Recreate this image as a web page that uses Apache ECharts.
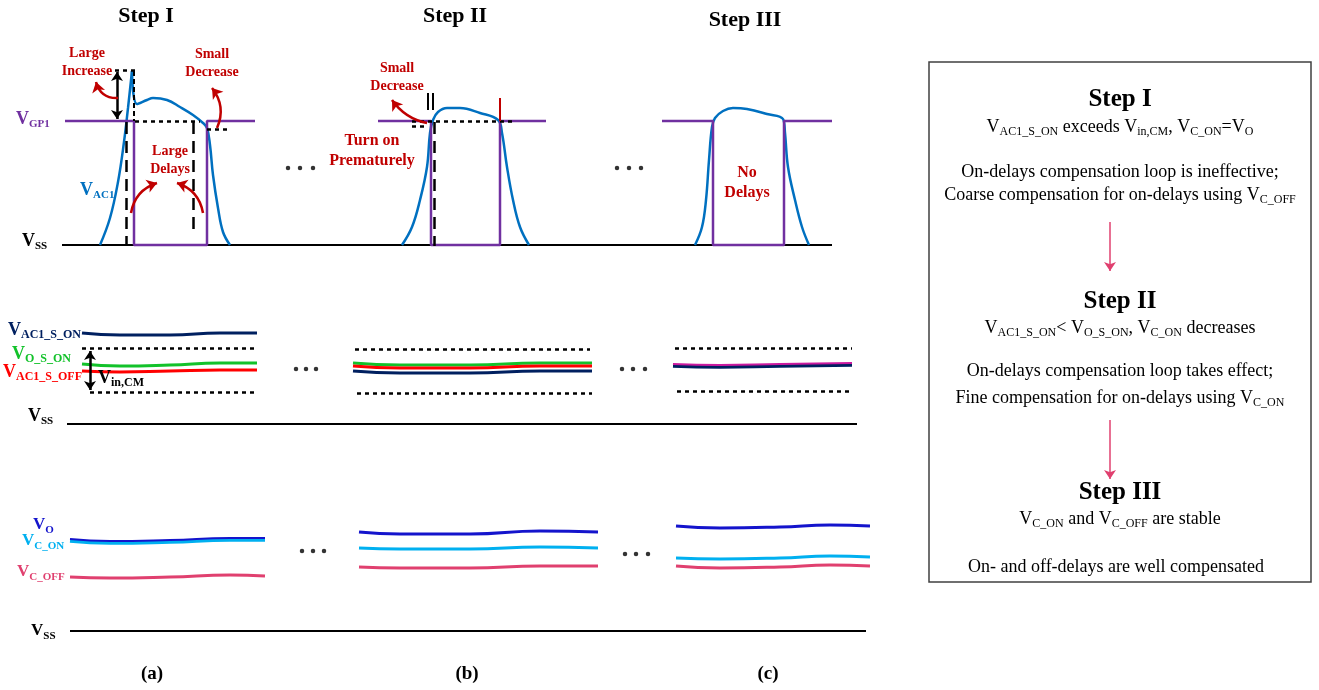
<!DOCTYPE html>
<html>
<head>
<meta charset="utf-8">
<script src="https://cdn.jsdelivr.net/npm/echarts@6/dist/echarts.min.js"></script>
<style>
  html, body { margin: 0; padding: 0; background: #fff; }
  #main { width: 1319px; height: 690px; }
</style>
</head>
<body>
<div id="main"></div>
<script>
// ---- data (drawing units = page pixels, y grows downward) ----
var stepTitles = ['Step I', 'Step II', 'Step III'];
var panelTags = ['(a)', '(b)', '(c)'];

// top row: gate pulse V_GP1 and node voltage V_AC1
var vgp1A = [[65, 121], [134, 121], [134, 245], [207, 245], [207, 121], [255, 121]];
var vgp1B = [[378, 121], [431, 121], [431, 245], [500, 245], [500, 121], [546, 121]];
var vgp1C = [[662, 121], [713, 121], [713, 245], [784, 245], [784, 121], [832, 121]];
var vac1ARise = [[100, 245], [110, 218], [118, 182], [124, 142], [128, 108], [132, 71]];
var vac1AFall = [[132, 71], [137, 104], [147, 100], [153, 98], [167, 100], [180, 107], [193, 115], [203, 123], [207, 128], [210, 145], [213, 175], [218, 208], [223, 232], [230, 245]];
var vac1B = [[402, 245], [412, 227], [420, 200], [427, 167], [430, 133], [433, 120], [438, 112], [447, 108], [460, 108], [480, 113], [498, 120], [502, 133], [507, 167], [513, 200], [520, 227], [529, 245]];
var vac1C = [[695, 245], [702, 227], [706, 200], [709, 160], [712, 127], [715, 118], [723, 111], [733, 108], [747, 109], [767, 114], [783, 119], [785, 133], [788, 167], [795, 200], [802, 227], [809, 245]];

// middle row: sampled voltages
var acOnA = [[82, 333], [120, 335], [170, 335], [220, 333], [257, 333]];
var oOnA = [[82, 364], [120, 366], [170, 365], [220, 363], [257, 363]];
var acOffA = [[82, 371], [120, 372], [170, 371], [220, 370], [257, 370]];
var oOnB = [[353, 363], [400, 365], [470, 365], [540, 363], [592, 363]];
var acOffB = [[353, 366], [400, 368], [470, 368], [540, 366], [592, 366]];
var acOnB = [[353, 371], [400, 373], [470, 373], [540, 371], [592, 371]];
var acOnC = [[673, 366], [720, 367], [780, 366], [852, 365]];
var mixC = [[673, 364], [720, 365], [780, 364], [852, 363]];

// bottom row: V_O, V_C_ON, V_C_OFF
var voA = [[70, 539], [110, 541], [170, 540], [230, 538], [265, 538]];
var vcOnA = [[70, 541], [110, 543], [170, 542], [230, 540], [265, 540]];
var vcOffA = [[70, 577], [110, 578], [170, 577], [230, 575], [265, 576]];
var voB = [[359, 532], [400, 534], [470, 534], [540, 531], [598, 532]];
var vcOnB = [[359, 548], [400, 549], [470, 549], [540, 547], [598, 548]];
var vcOffB = [[359, 567], [400, 568], [470, 568], [540, 566], [598, 566]];
var voC = [[676, 526], [720, 528], [780, 527], [830, 525], [870, 526]];
var vcOnC = [[676, 558], [720, 559], [780, 558], [830, 556], [870, 557]];
var vcOffC = [[676, 566], [720, 568], [780, 567], [830, 565], [870, 566]];

// straight guide segments
var vssLines = [[[62, 245], [832, 245]], [[67, 423.5], [857, 423.5]], [[70, 631], [866, 631]]];
var longDashes = [[[126, 122], [126, 246]], [[193, 122], [193, 233]], [[434, 122], [434, 246]]];
var shortDashes = [[[134, 71], [134, 121]]];
var dottedLines = [
  [[135, 121], [200, 121]], [[115, 70], [137, 70]], [[207, 129], [227, 129]],
  [[412, 121], [515, 121]], [[412, 126], [425, 126]],
  [[82, 348], [257, 348]], [[90, 392], [257, 392]],
  [[355, 349], [590, 349]], [[357, 393], [592, 393]],
  [[675, 348], [852, 348]], [[677, 391], [852, 391]]
];
var blackTicks = [[[428, 93], [428, 110]], [[433, 93], [433, 110]]];
var redTick = [[[500, 98], [500, 121]]];
var doubleArrows = [[[117, 72], [117, 119]], [[90, 351], [90, 390]]];
var redArrows = [
  [[[118, 98], [96, 82]], 0.4],
  [[[217, 128], [212, 88]], -0.3],
  [[[131, 213], [157, 183]], 0.3],
  [[[203, 213], [177, 183]], -0.3],
  [[[427, 123], [392, 100]], 0.2]
];
var boxArrows = [[[1110, 222], [1110, 271]], [[1110, 420], [1110, 479]]];
var ellipsis = [
  [288, 168], [300, 168], [313, 168], [617, 168], [629, 168], [641, 168],
  [296, 369], [306, 369], [316, 369], [622, 369], [633, 369], [645, 369],
  [302, 551], [313, 551], [324, 551], [625, 554], [636, 554], [648, 554]
];

var serif = '"Liberation Serif", "Times New Roman", serif';

function curve(data, color, width, smooth) {
  return { type: 'line', data: data, symbol: 'none', smooth: smooth, silent: true, z: 3,
    lineStyle: { color: color, width: width } };
}
function segs(list, color, width, dash, symbol, z) {
  return { type: 'lines', coordinateSystem: 'cartesian2d', silent: true, z: z || 2,
    data: list.map(function (c) { return { coords: c }; }),
    symbol: symbol || 'none', symbolSize: 9,
    lineStyle: { color: color, width: width, type: dash || 'solid', opacity: 1 } };
}

function rich(color, big, small, weight) {
  return {
    m: { fill: color, fontSize: big, fontWeight: weight, fontFamily: serif, lineHeight: big + 4 },
    s: { fill: color, fontSize: small, fontWeight: weight, fontFamily: serif, lineHeight: 10, verticalAlign: 'bottom' }
  };
}
function label(x, y, text, r, align) {
  return { type: 'text', x: x, y: y, silent: true, z: 10,
    style: { text: text, rich: r, align: align || 'left', verticalAlign: 'middle' } };
}
function plain(x, y, text, font, color, lh) {
  return { type: 'text', x: x, y: y, silent: true, z: 10,
    style: { text: text, font: font, fill: color, align: 'center', verticalAlign: 'middle', lineHeight: lh || 20 } };
}

var purple = '#7030a0', blue = '#0070c0', dred = '#c00000', navy = '#002060';
var green = '#12c22a', red = '#ff0000', magenta = '#cc1aa0';
var dblue = '#1414cc', lblue = '#00b0f0', pink = '#e0406f';

var graphics = [
  { type: 'rect', shape: { x: 929, y: 62, width: 382, height: 520 }, silent: true,
    style: { fill: 'none', stroke: '#404040', lineWidth: 1.5 } }
];
[[146, 16], [455, 16], [745, 20]].forEach(function (p, i) {
  graphics.push(plain(p[0], p[1], stepTitles[i], 'bold 22px ' + serif, '#000'));
});
[[152, 674], [467, 674], [768, 674]].forEach(function (p, i) {
  graphics.push(plain(p[0], p[1], panelTags[i], 'bold 19px ' + serif, '#000'));
});

var red14 = 'bold 14px ' + serif, red16 = 'bold 16px ' + serif;
graphics.push(
  plain(87, 62, 'Large\nIncrease', red14, dred, 18),
  plain(212, 63, 'Small\nDecrease', red14, dred, 18),
  plain(170, 160, 'Large\nDelays', red14, dred, 18),
  plain(397, 77, 'Small\nDecrease', red14, dred, 18),
  plain(372, 151, 'Turn on\nPrematurely', red16, dred, 20),
  plain(747, 183, 'No\nDelays', red16, dred, 20),

  label(16, 119, '{m|V}{s|GP1}', rich(purple, 18, 11, 'bold')),
  label(80, 190, '{m|V}{s|AC1}', rich(blue, 18, 11, 'bold')),
  label(22, 241, '{m|V}{s|SS}', rich('#000', 18, 11, 'bold')),

  label(8, 330, '{m|V}{s|AC1_S_ON}', rich(navy, 18, 12, 'bold')),
  label(12, 354, '{m|V}{s|O_S_ON}', rich(green, 18, 12, 'bold')),
  label(3, 372, '{m|V}{s|AC1_S_OFF}', rich(red, 18, 12, 'bold')),
  label(98, 378, '{m|V}{s|in,CM}', rich('#000', 18, 12, 'bold')),
  label(28, 416, '{m|V}{s|SS}', rich('#000', 18, 11, 'bold')),

  label(33, 525, '{m|V}{s|O}', rich(dblue, 17, 11, 'bold')),
  label(22, 541, '{m|V}{s|C_ON}', rich(lblue, 17, 11, 'bold')),
  label(17, 572, '{m|V}{s|C_OFF}', rich(pink, 17, 11, 'bold')),
  label(31, 631, '{m|V}{s|SS}', rich('#000', 17, 11, 'bold'))
);

var body = rich('#000', 18, 12, 'normal');
var bodyFont = '18px ' + serif;
graphics.push(
  plain(1120, 100, 'Step I', 'bold 25px ' + serif, '#000'),
  label(1120, 127, '{m|V}{s|AC1_S_ON}{m| exceeds V}{s|in,CM}{m|, V}{s|C_ON}{m|=V}{s|O}', body, 'center'),
  plain(1120, 172, 'On-delays compensation loop is ineffective;', bodyFont, '#000'),
  label(1120, 195, '{m|Coarse compensation for on-delays using V}{s|C_OFF}', body, 'center'),
  plain(1120, 302, 'Step II', 'bold 25px ' + serif, '#000'),
  label(1120, 328, '{m|V}{s|AC1_S_ON}{m|< V}{s|O_S_ON}{m|, V}{s|C_ON}{m| decreases}', body, 'center'),
  plain(1120, 371, 'On-delays compensation loop takes effect;', bodyFont, '#000'),
  label(1120, 398, '{m|Fine compensation for on-delays using V}{s|C_ON}', body, 'center'),
  plain(1120, 493, 'Step III', 'bold 25px ' + serif, '#000'),
  label(1120, 519, '{m|V}{s|C_ON}{m| and V}{s|C_OFF}{m| are stable}', body, 'center'),
  plain(1116, 567, 'On- and off-delays are well compensated', bodyFont, '#000')
);

var series = [
  segs(vssLines, '#000', 2),
  curve(vac1ARise, blue, 2.5, 0.4),
  curve(vac1AFall, blue, 2.5, 0.4),
  curve(vac1B, blue, 2.5, 0.4),
  curve(vac1C, blue, 2.5, 0.4),
  curve(vgp1A, purple, 2.5, false),
  curve(vgp1B, purple, 2.5, false),
  curve(vgp1C, purple, 2.5, false),
  segs(longDashes, '#000', 2.5, [12, 7], 'none', 4),
  segs(shortDashes, '#000', 2, [5, 3], 'none', 4),
  segs(dottedLines, '#000', 2.5, [4, 4], 'none', 4),
  segs(blackTicks, '#000', 2, 'solid', 'none', 4),
  segs(redTick, dred, 2, 'solid', 'none', 4),
  segs(doubleArrows, '#000', 2.5, 'solid', ['arrow', 'arrow'], 5),
  {
    type: 'lines', coordinateSystem: 'cartesian2d', silent: true, z: 5,
    symbol: ['none', 'arrow'], symbolSize: 10,
    data: redArrows.map(function (a) { return { coords: a[0], lineStyle: { curveness: a[1] } }; }),
    lineStyle: { color: dred, width: 2.5, opacity: 1 }
  },
  segs(boxArrows, pink, 1.5, 'solid', ['none', 'arrow'], 5),

  curve(acOnA, navy, 3, true),
  curve(oOnA, green, 3, true),
  curve(acOffA, red, 3, true),
  curve(oOnB, green, 3, true),
  curve(acOffB, red, 3, true),
  curve(acOnB, navy, 3, true),
  curve(acOnC, navy, 3.5, true),
  curve(mixC, magenta, 2, true),

  curve(vcOnA, lblue, 3.5, true),
  curve(voA, dblue, 2, true),
  curve(vcOffA, pink, 3, true),
  curve(voB, dblue, 3, true),
  curve(vcOnB, lblue, 3, true),
  curve(vcOffB, pink, 3, true),
  curve(voC, dblue, 3, true),
  curve(vcOnC, lblue, 3, true),
  curve(vcOffC, pink, 3, true),

  { type: 'scatter', data: ellipsis, symbol: 'circle', symbolSize: 4.5, silent: true, z: 5,
    itemStyle: { color: '#000' } }
];

var chart = echarts.init(document.getElementById('main'));
chart.setOption({
  animation: false,
  backgroundColor: '#fff',
  grid: { left: 0, right: 0, top: 0, bottom: 0 },
  xAxis: { type: 'value', min: 0, max: 1319, show: false },
  yAxis: { type: 'value', min: 0, max: 690, inverse: true, show: false },
  series: series,
  graphic: { elements: graphics }
});
</script>
</body>
</html>
